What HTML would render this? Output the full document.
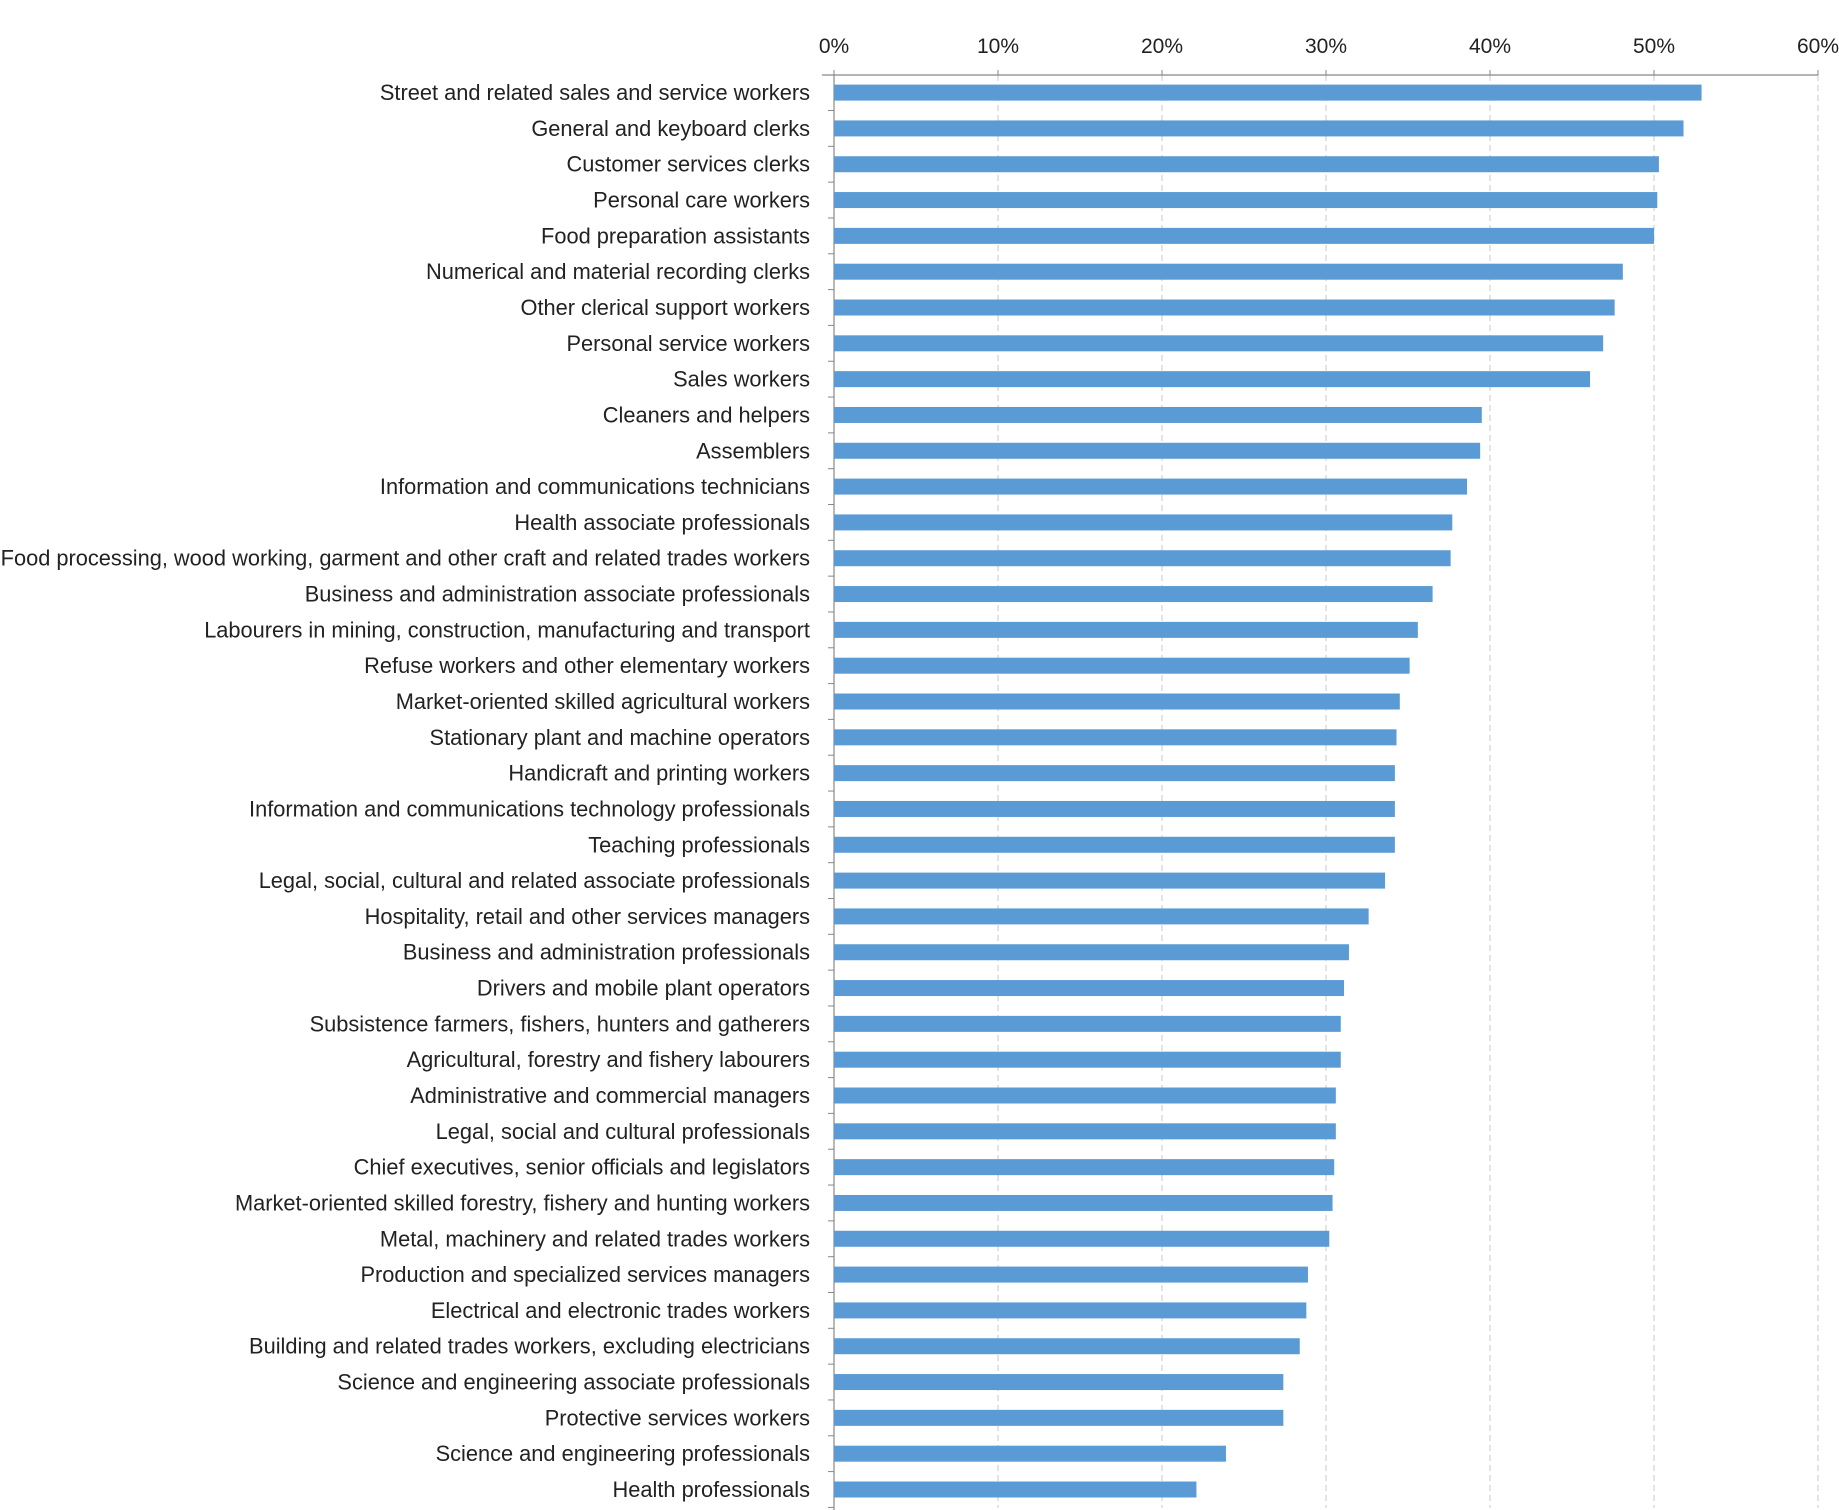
<!DOCTYPE html>
<html><head><meta charset="utf-8"><style>
html,body{margin:0;padding:0;background:#fff;}
svg{display:block;font-family:"Liberation Sans",sans-serif;}
</style></head><body>
<svg id="chart" width="1839" height="1510" viewBox="0 0 1839 1510" xmlns="http://www.w3.org/2000/svg"></svg>
<script>
const categories = ["Street and related sales and service workers","General and keyboard clerks","Customer services clerks","Personal care workers","Food preparation assistants","Numerical and material recording clerks","Other clerical support workers","Personal service workers","Sales workers","Cleaners and helpers","Assemblers","Information and communications technicians","Health associate professionals","Food processing, wood working, garment and other craft and related trades workers","Business and administration associate professionals","Labourers in mining, construction, manufacturing and transport","Refuse workers and other elementary workers","Market-oriented skilled agricultural workers","Stationary plant and machine operators","Handicraft and printing workers","Information and communications technology professionals","Teaching professionals","Legal, social, cultural and related associate professionals","Hospitality, retail and other services managers","Business and administration professionals","Drivers and mobile plant operators","Subsistence farmers, fishers, hunters and gatherers","Agricultural, forestry and fishery labourers","Administrative and commercial managers","Legal, social and cultural professionals","Chief executives, senior officials and legislators","Market-oriented skilled forestry, fishery and hunting workers","Metal, machinery and related trades workers","Production and specialized services managers","Electrical and electronic trades workers","Building and related trades workers, excluding electricians","Science and engineering associate professionals","Protective services workers","Science and engineering professionals","Health professionals"];
const values = [52.9,51.8,50.3,50.2,50.0,48.1,47.6,46.9,46.1,39.5,39.4,38.6,37.7,37.6,36.5,35.6,35.1,34.5,34.3,34.2,34.2,34.2,33.6,32.6,31.4,31.1,30.9,30.9,30.6,30.6,30.5,30.4,30.2,28.9,28.8,28.4,27.4,27.4,23.9,22.1];
const tickValues = [0,10,20,30,40,50,60];
const tickLabels = ["0%","10%","20%","30%","40%","50%","60%"];

const svg = document.getElementById('chart');
const NS = 'http://www.w3.org/2000/svg';
const x0 = 834, x1 = 1818, xMax = 60;
const yTop = 75, yBottom = 1508;
const firstC = 92.6, lastC = 1489.5;
const step = (lastC - firstC) / (categories.length - 1);
function xs(v){ return x0 + (v / xMax) * (x1 - x0); }
function yc(i){ return firstC + i * step; }
function mk(tag, attrs){ const e = document.createElementNS(NS, tag); for (const k in attrs) e.setAttribute(k, attrs[k]); svg.appendChild(e); return e; }

tickValues.forEach((t, i) => {
  const x = xs(t);
  if (t > 0) {
    const g = mk('line', {x1:x, y1:yTop, x2:x, y2:yBottom, stroke:'#c8c8c8', 'stroke-width':1, 'stroke-dasharray':'6,4'});
    
    
  }
  const tk = mk('line', {x1:x, y1:yTop-5, x2:x, y2:yTop, stroke:'#888', 'stroke-width':1});
  
  
  const lb = mk('text', {x:x, y:53, 'text-anchor':'middle', 'font-size':21, fill:'#222'});
  lb.textContent = tickLabels[i];
  
  
});

const ax = mk('line', {x1:x0-12, y1:yTop, x2:x1, y2:yTop, stroke:'#888', 'stroke-width':1.2});


const ay = mk('line', {x1:x0, y1:yTop, x2:x0, y2:yBottom+2, stroke:'#888', 'stroke-width':1.2});



categories.forEach((c, i) => {
  const y = yc(i);
  const b = y + step / 2;
  const mt = mk('line', {x1:x0-6, y1:b, x2:x0, y2:b, stroke:'#888', 'stroke-width':1});
  
  
  const r = mk('rect', {x:x0, y:y-8, width:xs(values[i]) - x0, height:16, fill:'#5b9bd5'});
  
  
  const t = mk('text', {x:810, y:y+7.5, 'text-anchor':'end', 'font-size':21.8, fill:'#222'});
  t.textContent = c;
  
  
});
</script>
</body></html>
